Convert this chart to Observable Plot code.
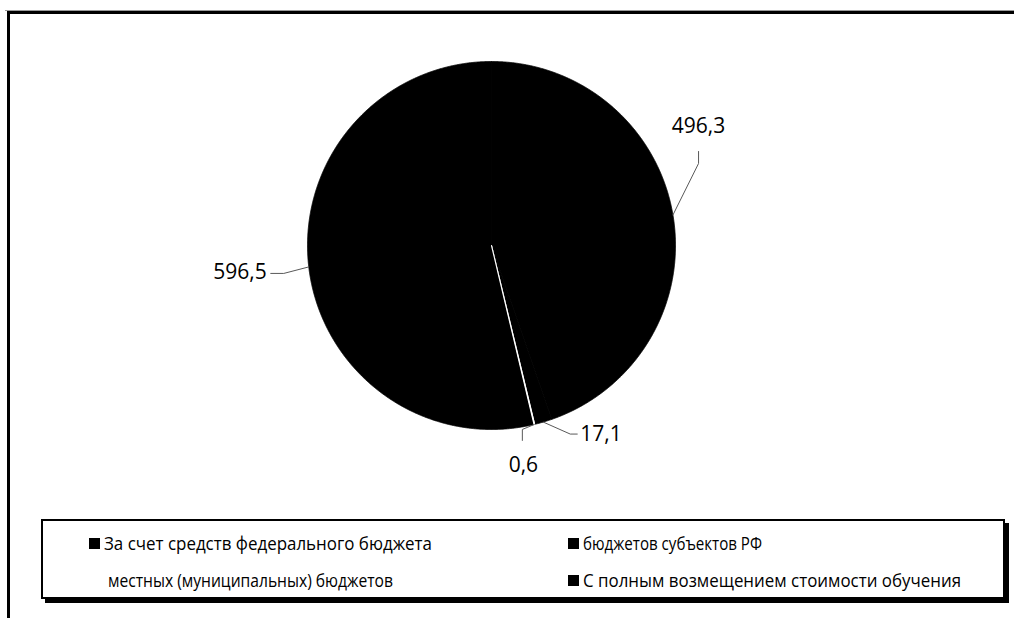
<!DOCTYPE html>
<html>
<head>
<meta charset="utf-8">
<script src="https://cdn.jsdelivr.net/npm/d3@7"></script>
<script src="https://cdn.jsdelivr.net/npm/@observablehq/plot@0.6"></script>
<style>
  html, body { margin: 0; padding: 0; background: #fff; }
  #wrap { position: relative; width: 1014px; height: 618px; overflow: hidden; font-family: "Open Sans", sans-serif; }
  #frameTopGrey { position: absolute; left: 5px; top: 10px; right: 0; height: 1px; background: #9a9a9a; }
  #frame { position: absolute; left: 7px; top: 11px; right: -20px; bottom: -20px; border-top: 3px solid #000; border-left: 3px solid #000; }
  #chart { position: absolute; left: 0; top: 0; }
  #legend { position: absolute; left: 41px; top: 519px; width: 960px; height: 76px; border: 2px solid #000; box-shadow: 4px 4px 0 #000; background: #fff; }
  .item { position: absolute; height: 24px; white-space: nowrap; }
  .sw { position: absolute; width: 11px; height: 11px; top: 7px; }
  .lbl { position: absolute; left: 15px; top: 0; font-size: 18px; line-height: 24px; color: #000; transform-origin: 0 50%; display: inline-block; }
</style>
</head>
<body>
<div id="wrap">
  <div id="frameTopGrey"></div>
  <div id="frame"></div>
  <div id="chart"></div>
  <div id="legend"></div>
</div>
<script>
// ---- data ----
const categories = [
  "За счет средств федерального бюджета",
  "бюджетов субъектов РФ",
  "местных (муниципальных) бюджетов",
  "С полным возмещением стоимости обучения"
];
const values = [496.3, 17.1, 0.6, 596.5];
const valueLabels = ["496,3", "17,1", "0,6", "596,5"];
const colors = ["#000000", "#000000", "#ffffff", "#000000"];

// ---- layout (pixels relative to slice mid-point on the rim) ----
const R = 184;
const leaderLayout = [
  {elbow: [25.6, -51.5], end: [25.6, -63.5], text: [25.6, -89], anchor: "middle"},
  {elbow: [27, 12], end: [34, 12], text: [37, 12.5], anchor: "start"},
  {elbow: [-12, 5], end: [-12, 16], text: [-11, 41], anchor: "middle"},
  {elbow: [-25, 6.5], end: [-38, 6.5], text: [-42, 5], anchor: "end"}
];
// legend placement: [left, top] within legend box and target text width
const legendLayout = [
  {pos: [46, 10], w: 328},
  {pos: [525, 10], w: 179},
  {pos: [50, 47], w: 285},
  {pos: [525, 47], w: 378}
];

// ---- build slices ----
const arcs = d3.pie().sort(null).value(d => d)(values);
const polys = [];
arcs.forEach((a, i) => {
  const n = Math.max(2, Math.ceil((a.endAngle - a.startAngle) / (Math.PI / 720)));
  polys.push({cat: categories[i], x: 0, y: 0});
  for (let k = 0; k <= n; k++) {
    const t = a.startAngle + (a.endAngle - a.startAngle) * k / n;
    polys.push({cat: categories[i], x: Math.sin(t), y: Math.cos(t)});
  }
  polys.push({cat: categories[i], x: 0, y: 0});
});

const leaders = [];
const labels = [];
arcs.forEach((a, i) => {
  const m = (a.startAngle + a.endAngle) / 2;
  const ax = Math.sin(m), ay = Math.cos(m);
  const L = leaderLayout[i];
  const p = ([dx, dy]) => ({x: ax + dx / R, y: ay - dy / R});
  leaders.push({id: i, ...p([0, 0])}, {id: i, ...p(L.elbow)}, {id: i, ...p(L.end)});
  labels.push({label: valueLabels[i], anchor: L.anchor, ...p(L.text)});
});

const white = categories.filter((c, i) => colors[i] === "#ffffff");

const chart = Plot.plot({
  width: 1014,
  height: 512,
  x: {domain: [-1, 1], range: [491 - R, 491 + R], axis: null},
  y: {domain: [-1, 1], range: [245 + R, 245 - R], axis: null},
  color: {domain: categories, range: colors},
  style: {background: "transparent", overflow: "visible"},
  marks: [
    Plot.line(polys, {x: "x", y: "y", z: "cat", fill: "cat", stroke: "cat", strokeWidth: 0.8, curve: "linear"}),
    Plot.line(polys.filter(d => white.includes(d.cat)), {x: "x", y: "y", z: "cat", fill: "#fff", stroke: "#fff", strokeWidth: 1.1}),
    Plot.line(leaders, {x: "x", y: "y", z: "id", stroke: "#595959", strokeWidth: 1}),
    ...["start", "middle", "end"].map(anc =>
      Plot.text(labels.filter(d => d.anchor === anc), {x: "x", y: "y", text: "label", textAnchor: anc, fontSize: 21, fontFamily: "Open Sans", fill: "#000"}))
  ]
});
document.getElementById("chart").appendChild(chart);

// ---- legend ----
const legend = document.getElementById("legend");
categories.forEach((c, i) => {
  const L = legendLayout[i];
  const item = document.createElement("div");
  item.className = "item";
  item.style.left = L.pos[0] + "px";
  item.style.top = L.pos[1] + "px";
  const sw = document.createElement("div");
  sw.className = "sw";
  sw.style.background = colors[i];
  item.appendChild(sw);
  const t = document.createElement("span");
  t.className = "lbl";
  t.textContent = c;
  item.appendChild(t);
  legend.appendChild(item);
  const w = t.getBoundingClientRect().width;
  t.style.transform = `scaleX(${L.w / w})`;
});
</script>
</body>
</html>
